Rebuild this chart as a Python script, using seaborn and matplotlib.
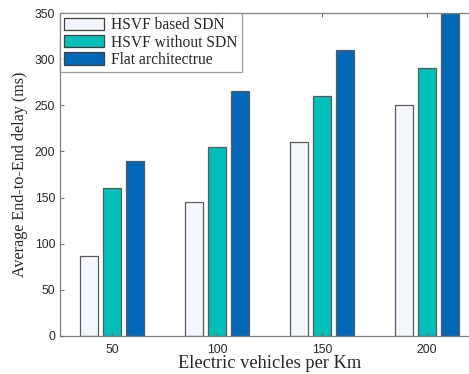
import matplotlib
matplotlib.use("Agg")
import matplotlib.pyplot as plt
import seaborn as sns
import pandas as pd

categories = ["50", "100", "150", "200"]
series_names = ["HSVF based SDN", "HSVF without SDN", "Flat architectrue"]
hsvf_sdn = [87, 145, 210, 250]
hsvf_no_sdn = [160, 205, 260, 290]
flat_arch = [190, 265, 310, 350]
colors = ["#F3F6FC", "#00BFB9", "#0068B7"]

rows = []
for name, vals in zip(series_names, [hsvf_sdn, hsvf_no_sdn, flat_arch]):
    for c, v in zip(categories, vals):
        rows.append({"cat": c, "series": name, "value": v})
df = pd.DataFrame(rows)

sns.set_style("white")
fig = plt.figure(figsize=(4.69, 3.74), dpi=100)
ax = fig.add_axes([60/469, 38/374, 419/469, 323/374])

sns.barplot(data=df, x="cat", y="value", hue="series", order=categories,
            hue_order=series_names, palette=colors, width=0.66, gap=0.22,
            edgecolor="#5a5a5a", linewidth=0.9, ax=ax, saturation=1)

ax.set_axisbelow(False)
ax.set_xlim(-0.5, 3.5)
ax.set_ylim(0, 350)
ax.set_yticks(range(0, 351, 50))
for s in ["left", "bottom", "top", "right"]:
    ax.spines[s].set_visible(True)
    ax.spines[s].set_color("#808080")
    ax.spines[s].set_linewidth(0.9)
ax.tick_params(direction="in", length=3, width=0.8, color="#707070",
               top=True, right=True, bottom=True, left=True,
               labelsize=8.7, labelcolor="#262626")
ax.tick_params(axis="x", pad=6)
for lab in ax.get_xticklabels() + ax.get_yticklabels():
    lab.set_fontfamily("Liberation Sans")

ax.set_xlabel("Electric vehicles per Km", fontfamily="Liberation Serif",
              fontsize=13.2, labelpad=-1)
ax.set_ylabel("Average End-to-End delay (ms)", fontfamily="Liberation Serif",
              fontsize=11.6, labelpad=5)

leg = ax.legend(loc="upper left", prop={"family": "Liberation Serif", "size": 11.2},
                fancybox=False, frameon=True, edgecolor="#808080",
                borderaxespad=0.0, handlelength=2.55, handleheight=0.85,
                handletextpad=0.45, labelspacing=0.08, borderpad=0.28)
leg.get_frame().set_linewidth(0.9)
for h in leg.legend_handles:
    h.set_edgecolor("#404040")
leg.set_title(None)

fig.savefig("out.png", dpi=100)
